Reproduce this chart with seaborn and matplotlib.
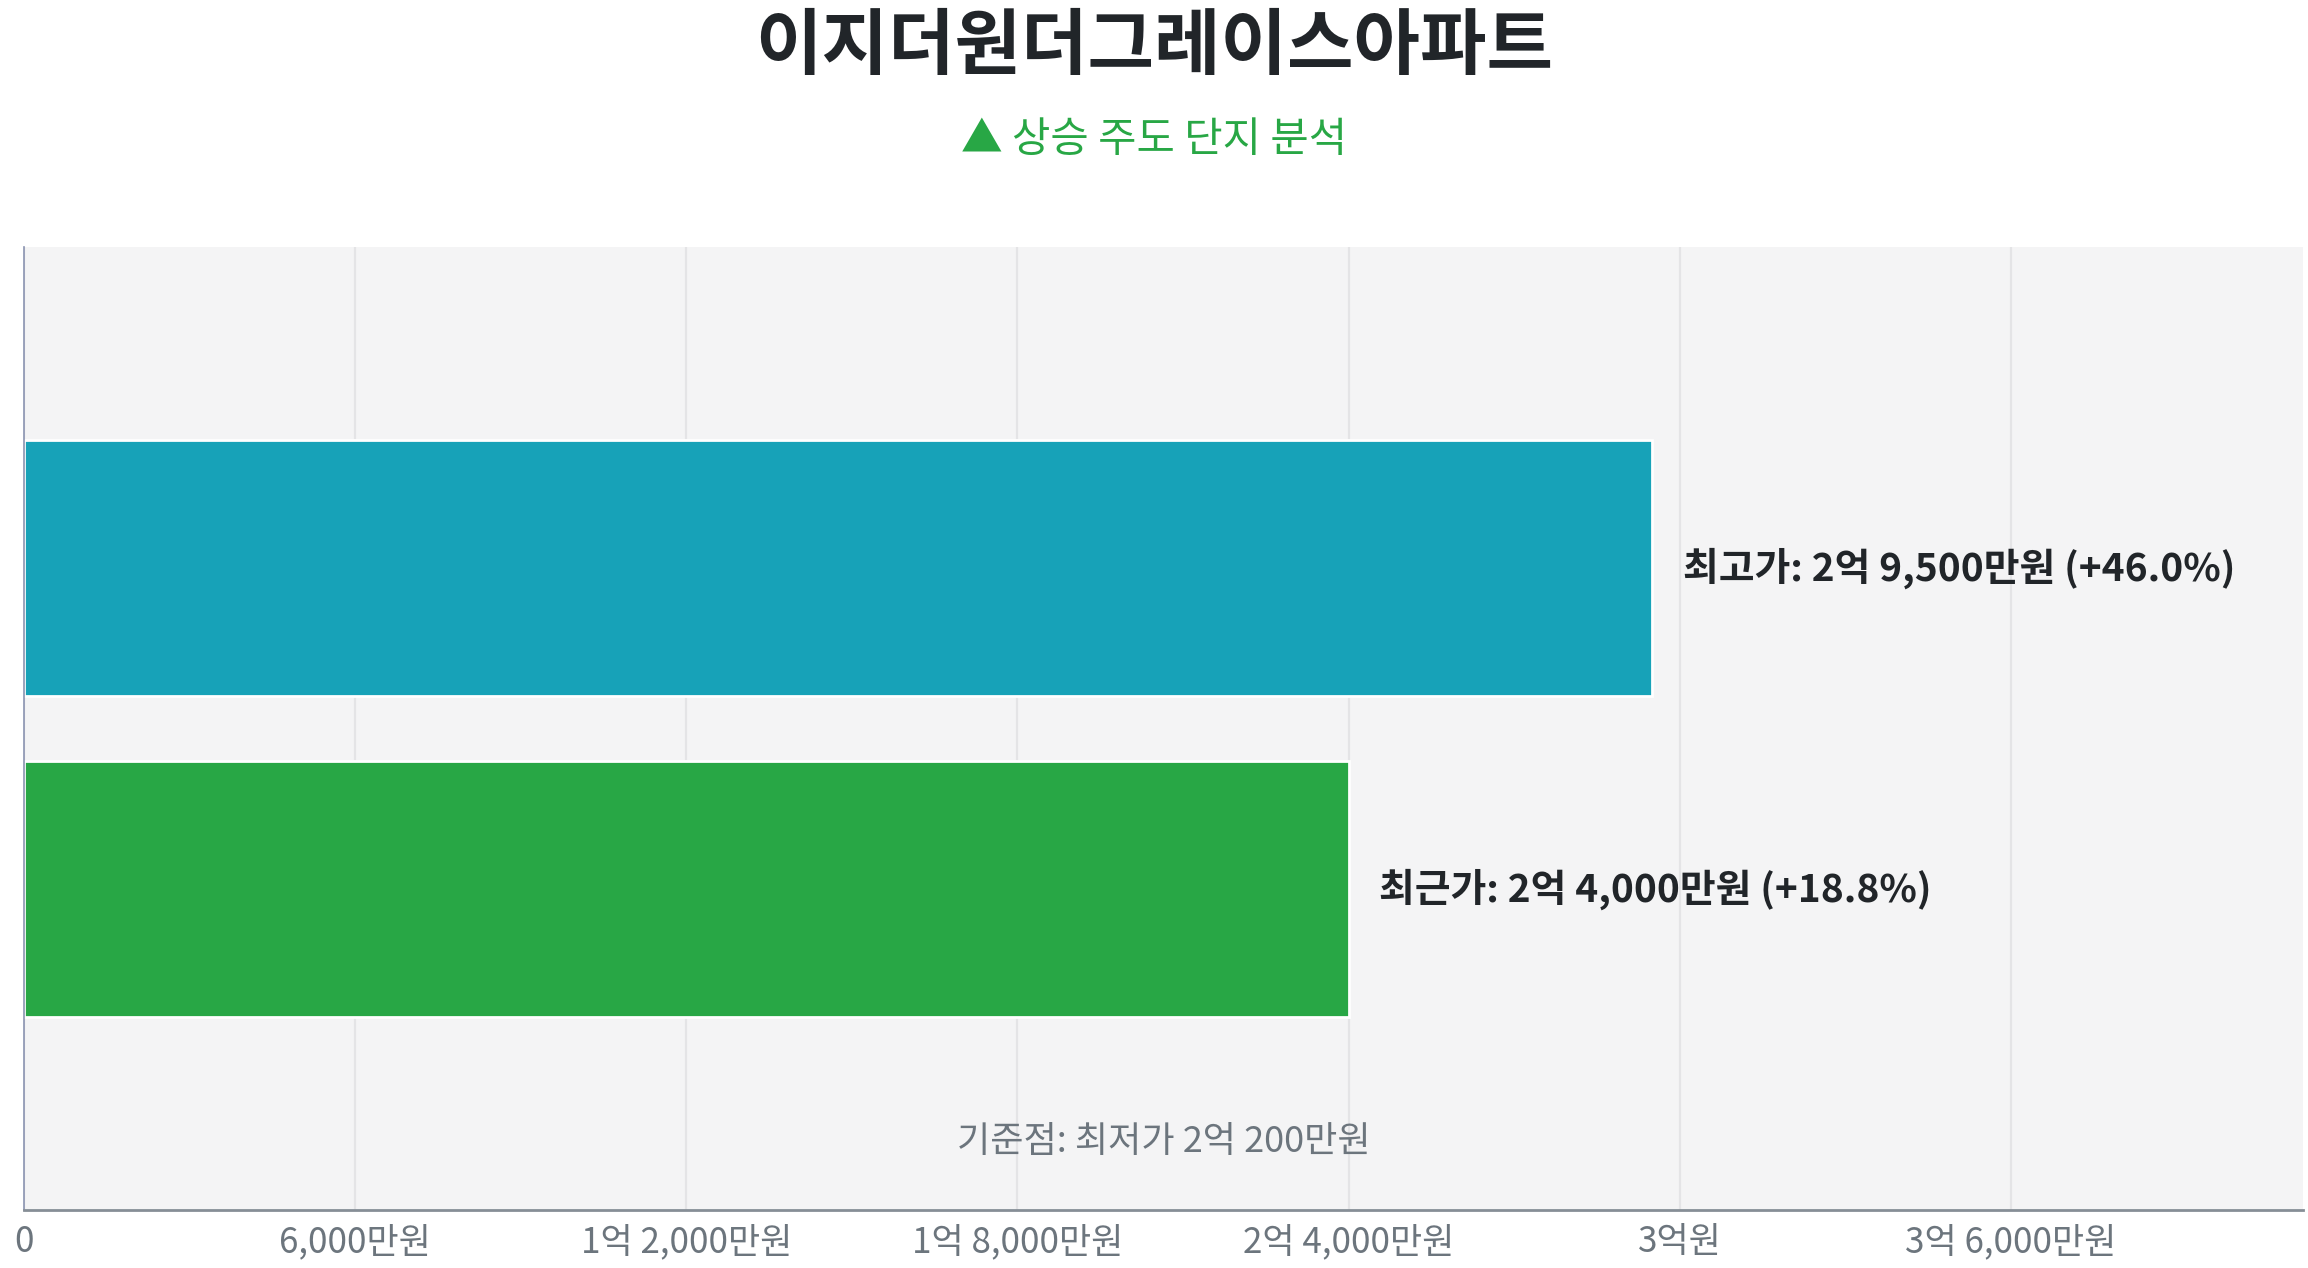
import matplotlib
matplotlib.use("Agg")
import matplotlib.pyplot as plt
import matplotlib.ticker as mticker
import seaborn as sns
import pandas as pd

# values in 만원
labels = ["최고가", "최근가"]
prices = [29500, 24000]
base_price = 20200
bar_colors = ["#17a2b8", "#28a745"]
tick_values = [0, 6000, 12000, 18000, 24000, 30000, 36000]

title = "이지더원더그레이스아파트"
subtitle = "▲ 상승 주도 단지 분석"


def fmt_price(v):
    v = int(round(v))
    if v == 0:
        return "0"
    eok, man = divmod(v, 10000)
    if eok and man:
        return f"{eok}억 {man:,}만원"
    if eok:
        return f"{eok}억원"
    return f"{man:,}만원"


sns.set_style("white")
plt.rcParams["font.family"] = ["Noto Sans CJK KR", "DejaVu Sans"]

df = pd.DataFrame({"label": labels, "price": prices})

fig = plt.figure(figsize=(11.54, 6.34), dpi=200)
ax = fig.add_axes([0.0104, 0.0457, 0.9876, 0.7595])
ax.set_facecolor("#f4f4f5")

sns.barplot(data=df, x="price", y="label", hue="label", palette=bar_colors,
            orient="h", width=0.8, legend=False, saturation=1, ax=ax)

ax.set_xlim(0, max(prices) * 1.4)
ax.set_ylim(2, -1)
ax.set_xticks(tick_values)
ax.xaxis.set_major_formatter(mticker.FuncFormatter(lambda v, p: fmt_price(v)))
ax.tick_params(axis="x", colors="#868e96", labelcolor="#6c757d", labelsize=12.6,
               length=4, width=0.8, pad=1)
ax.set_yticks([])
ax.set_xlabel("")
ax.set_ylabel("")
ax.grid(axis="x", color="#e4e4e6", linewidth=0.8)
ax.set_axisbelow(True)

for s in ["top", "right"]:
    ax.spines[s].set_visible(False)
ax.spines["left"].set_color("#8a93b0")
ax.spines["left"].set_linewidth(0.6)
ax.spines["bottom"].set_color("#868e96")
ax.spines["bottom"].set_linewidth(1.0)

for i, (lab, p) in enumerate(zip(labels, prices)):
    pct = (p / base_price - 1) * 100
    ax.annotate(f"{lab}: {fmt_price(p)} (+{pct:.1f}%)", xy=(p, i),
                xytext=(11, 0), textcoords="offset points",
                ha="left", va="center", fontsize=14, fontweight="bold",
                color="#212529")

ax.text(0.5, 0.071, f"기준점: 최저가 {fmt_price(base_price)}", transform=ax.transAxes,
        ha="center", va="center", fontsize=13, color="#6c757d")

fig.text(0.5, 0.962, title, ha="center", va="center", fontsize=26,
         fontweight="bold", color="#212529")
fig.text(0.5, 0.889, subtitle, ha="center", va="center", fontsize=15,
         color="#28a745")

fig.savefig("out.png", dpi=200, facecolor="white")
